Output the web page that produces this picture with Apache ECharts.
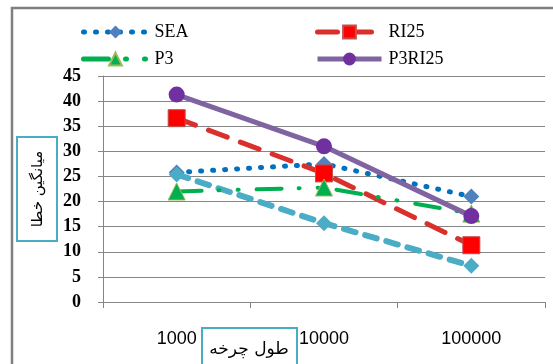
<!DOCTYPE html>
<html><head><meta charset="utf-8">
<script src="https://cdn.jsdelivr.net/npm/echarts@6/dist/echarts.min.js"></script>
<style>html,body{margin:0;padding:0;background:#fff}#c{width:553px;height:364px}</style>
</head><body><div id="c"></div>
<script>
const categories = ['1000', '10000', '100000'];
const seaValues = [25.8, 27.5, 21];
const ri25Values = [36.6, 25.6, 11.3];
const p3Values = [22, 22.8, 17.6];
const p3ri25Values = [41.3, 31, 17.1];
const extraValues = [25.4, 15.7, 7.2];
const yTicks = {min: 0, max: 45, interval: 5};
const xTitle = 'طول چرخه';
const yTitle = 'میانگین خطا';

const chart = echarts.init(document.getElementById('c'), null, {renderer: 'canvas'});
const gray = '#868686';
const legendCommon = {orient: 'vertical', top: 23, padding: 0, itemWidth: 64, itemHeight: 16, itemGap: 9,
  lineStyle: {width: 5}, textStyle: {fontFamily: 'Liberation Serif', fontSize: 18, color: '#000', padding: [0, 0, 0, 2]}};
chart.setOption({
  animation: false,
  backgroundColor: '#fff',
  grid: {left: 103, right: 8, top: 76, bottom: 62},
  legend: [
    Object.assign({data: ['SEA', 'P3'], left: 81}, legendCommon),
    Object.assign({data: ['RI25', 'P3RI25'], left: 315}, legendCommon)
  ],
  xAxis: {
    type: 'category', data: categories, boundaryGap: true,
    axisLine: {lineStyle: {color: gray, width: 1}},
    axisTick: {show: true, length: 6, lineStyle: {color: gray}},
    axisLabel: {margin: 28, fontFamily: 'Liberation Sans', fontSize: 18, color: '#000'}
  },
  yAxis: {
    type: 'value', min: yTicks.min, max: yTicks.max, interval: yTicks.interval,
    axisLine: {show: true, lineStyle: {color: gray}},
    axisTick: {show: true, length: 5, lineStyle: {color: gray}},
    splitLine: {lineStyle: {color: gray, width: 1}},
    axisLabel: {margin: 22, fontFamily: '"Liberation Serif"', fontWeight: 'bold', fontSize: 18, color: '#000'}
  },
  graphic: [
    {type: 'rect', z: -1, shape: {x: 12, y: 8, width: 600, height: 400}, style: {fill: 'none', stroke: '#7f7f7f', lineWidth: 2.5}},
    {type: 'rect', z: 10, shape: {x: 17, y: 137, width: 40, height: 104}, style: {fill: '#fff', stroke: '#4bacc6', lineWidth: 2}},
    {type: 'text', z: 11, x: 38, y: 189, rotation: Math.PI / 2,
     style: {text: yTitle, font: '15px "DejaVu Sans"', fill: '#000', align: 'center', verticalAlign: 'middle'}},
    {type: 'rect', z: 10, shape: {x: 202, y: 328, width: 95, height: 50}, style: {fill: '#fff', stroke: '#4bacc6', lineWidth: 2}},
    {type: 'text', z: 11, x: 249, y: 350,
     style: {text: xTitle, font: '17px "DejaVu Sans"', fill: '#000', align: 'center', verticalAlign: 'middle'}}
  ],
  series: [
    {name: 'SEA', type: 'line', data: seaValues, symbol: 'diamond', symbolSize: 16,
     itemStyle: {color: '#4f81bd'},
     lineStyle: {color: '#0070c0', width: 5, type: [1, 11], cap: 'round'}},
    {name: 'extra', type: 'line', data: extraValues, symbol: 'diamond', symbolSize: 16,
     itemStyle: {color: '#4bacc6'},
     lineStyle: {color: '#4bacc6', width: 6, type: [12, 10], cap: 'round'}},
    {name: 'RI25', type: 'line', data: ri25Values, symbol: 'rect', symbolSize: 17,
     itemStyle: {color: '#ff0000', borderColor: '#c0504d', borderWidth: 1},
     lineStyle: {color: '#d9302c', width: 5, type: [20, 14], cap: 'round'}},
    {name: 'P3', type: 'line', data: p3Values, symbol: 'triangle', symbolSize: 17,
     itemStyle: {color: '#00b050', borderColor: '#9bbb59', borderWidth: 1},
     lineStyle: {color: '#00b050', width: 4, type: [25, 17, 1, 18, 1, 18], cap: 'round'}},
    {name: 'P3RI25', type: 'line', data: p3ri25Values, symbol: 'circle', symbolSize: 16,
     itemStyle: {color: '#7030a0'},
     lineStyle: {color: '#8064a2', width: 5}}
  ]
});
</script></body></html>
